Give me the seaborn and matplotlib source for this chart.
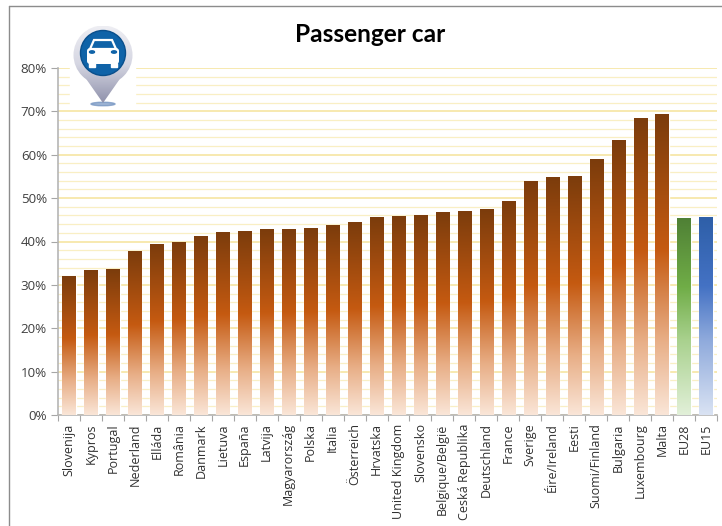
import matplotlib
matplotlib.use("Agg")
import matplotlib.pyplot as plt
import seaborn as sns
import pandas as pd
import numpy as np
from matplotlib.colors import LinearSegmentedColormap
from matplotlib.lines import Line2D
from matplotlib.patches import Circle, Polygon, Rectangle, FancyBboxPatch, Ellipse

countries = ["Slovenija", "Kypros", "Portugal", "Nederland", "Elláda", "România", "Danmark",
             "Lietuva", "España", "Latvija", "Magyarország", "Polska", "Italia", "Österreich",
             "Hrvatska", "United Kingdom", "Slovensko", "Belgique/België", "Ceská Republika",
             "Deutschland", "France", "Sverige", "Éire/Ireland", "Eesti", "Suomi/Finland",
             "Bulgaria", "Luxembourg", "Malta", "EU28", "EU15"]
share = [32.0, 33.3, 33.5, 37.8, 39.3, 39.8, 41.2, 42.0, 42.4, 42.8, 42.8, 43.0, 43.7, 44.3,
         45.6, 45.8, 46.0, 46.8, 46.9, 47.4, 49.3, 53.8, 54.8, 55.0, 58.8, 63.2, 68.4, 69.2,
         45.2, 45.6]
y_ticks = [0, 10, 20, 30, 40, 50, 60, 70, 80]
minor_ticks = [v for v in range(0, 81, 2) if v % 10 != 0]

sns.set_theme(style="white")
plt.rcParams['font.family'] = ['Open Sans', 'DejaVu Sans']

df = pd.DataFrame({"Country": countries, "Share": share})

fig = plt.figure(figsize=(7.22, 5.26), dpi=100)
W, H = 722, 526
ax = fig.add_axes([58 / W, 1 - 415 / H, 659 / W, 347 / H])

sns.barplot(data=df, x="Country", y="Share", color="white", width=0.6, ax=ax, zorder=3)

# gradients, each bar top to bottom
brown = LinearSegmentedColormap.from_list("brown", [(0, "#7b3c0c"), (0.45, "#c55a11"), (0.75, "#e8ae86"), (1, "#fae6d8")], N=1024)
green = LinearSegmentedColormap.from_list("green", [(0, "#4f8035"), (0.35, "#70ad47"), (0.62, "#a9d18e"), (1, "#e2f0d9")], N=1024)
blue = LinearSegmentedColormap.from_list("blue", [(0, "#2e5fa8"), (0.35, "#4472c4"), (0.62, "#8faadc"), (1, "#dae3f3")], N=1024)
grad = np.linspace(0, 1, 1024).reshape(-1, 1)
for i, bar in enumerate(ax.patches):
    cmap = brown
    if countries[i] == "EU28":
        cmap = green
    elif countries[i] == "EU15":
        cmap = blue
    x0, w, h = bar.get_x(), bar.get_width(), bar.get_height()
    ax.imshow(grad, cmap=cmap, aspect="auto", extent=[x0, x0 + w, 0, h], zorder=4,
              interpolation="bilinear", interpolation_stage="rgba")

ax.set_xlim(-0.5, len(countries) - 0.5)
ax.set_ylim(0, 80)

ax.set_yticks(y_ticks)
ax.set_yticklabels([f"{v}%" for v in y_ticks], fontsize=9.6, color="#404040")
ax.set_yticks(minor_ticks, minor=True)
ax.grid(axis="y", which="major", color="#f5e39a", linewidth=1.1, zorder=0)
ax.grid(axis="y", which="minor", color="#f9efc4", linewidth=0.9, zorder=0)
ax.grid(axis="x", visible=False)
ax.set_axisbelow(True)

ax.set_xticks(np.arange(len(countries)))
ax.set_xticklabels(countries, rotation=90, fontsize=9, color="#303030")
ax.set_xlabel("")
ax.set_ylabel("")

# ticks between categories like the spreadsheet axis
ax.set_xticks(np.arange(-0.5, len(countries)), minor=True)
ax.tick_params(axis="x", which="major", length=0, pad=6)
ax.tick_params(axis="x", which="minor", length=4, width=0.8, color="#a6a6a6", bottom=True)
ax.tick_params(axis="y", which="major", length=5, width=0.8, color="#a6a6a6", left=True, pad=3)
ax.tick_params(axis="y", which="minor", length=0)

for side in ["top", "right"]:
    ax.spines[side].set_visible(False)
for side in ["left", "bottom"]:
    ax.spines[side].set_color("#b5b5b5")
    ax.spines[side].set_linewidth(1.2)

fig.text(370 / W, 1 - 35 / H, "Passenger car", ha="center", va="center",
         fontsize=17.6, fontweight="bold", color="black", family=['Lato', 'DejaVu Sans'])

# outer frame, only top and left show
fig.add_artist(Line2D([9 / W, 1], [1 - 6 / H, 1 - 6 / H], transform=fig.transFigure, color="#8c8c8c", linewidth=1.0))
fig.add_artist(Line2D([9 / W, 9 / W], [0, 1 - 6 / H], transform=fig.transFigure, color="#8c8c8c", linewidth=1.0))

# location pin icon, in pixel coordinates
icon = fig.add_axes([68 / W, 1 - 112 / H, 70 / W, 90 / H])
icon.set_xlim(68, 138)
icon.set_ylim(112, 22)
icon.axis("off")
icon.add_patch(Rectangle((70, 22), 65, 84, color="white", zorder=0))
icon.add_patch(Ellipse((103, 104), 24, 3.5, color="#6f90bf", alpha=0.7, zorder=1))

# pin body fades from pale to grey blue towards the tip
pin_grad = np.linspace(0, 1, 128).reshape(-1, 1)
pin_cmap = LinearSegmentedColormap.from_list("pin", ["#eeeef3", "#d5d6e2", "#8f91ab"])
tip = Polygon([[75, 63], [103, 103], [131, 63]], closed=True, transform=icon.transData, facecolor="none", edgecolor="none")
head = Circle((103, 55), 29.5, transform=icon.transData, facecolor="none", edgecolor="none")
icon.add_patch(tip)
icon.add_patch(head)
for clip, z in [(tip, 1.5), (head, 2)]:
    im = icon.imshow(pin_grad, cmap=pin_cmap, aspect="auto", extent=[72, 134, 103, 26], zorder=z)
    im.set_clip_path(clip)
icon.set_xlim(68, 138)
icon.set_ylim(112, 22)

icon.add_patch(Circle((103, 53), 22.5, facecolor="#0f63a8", edgecolor="#0a4f8c", linewidth=1, zorder=3))
# car
icon.add_patch(Polygon([[90, 49], [94, 40], [112, 40], [116, 49]], closed=True, facecolor="none", edgecolor="white", linewidth=1.6, zorder=4))
icon.add_patch(FancyBboxPatch((87, 48), 32, 16, boxstyle="round,pad=0,rounding_size=3", facecolor="white", edgecolor="none", zorder=4))
icon.add_patch(Rectangle((89, 63), 6, 4, color="white", zorder=4))
icon.add_patch(Rectangle((111, 63), 6, 4, color="white", zorder=4))
icon.add_patch(Ellipse((92, 52), 5, 2.4, color="#0f63a8", zorder=5))
icon.add_patch(Ellipse((114, 52), 5, 2.4, color="#0f63a8", zorder=5))

plt.savefig("out.png", dpi=100)
